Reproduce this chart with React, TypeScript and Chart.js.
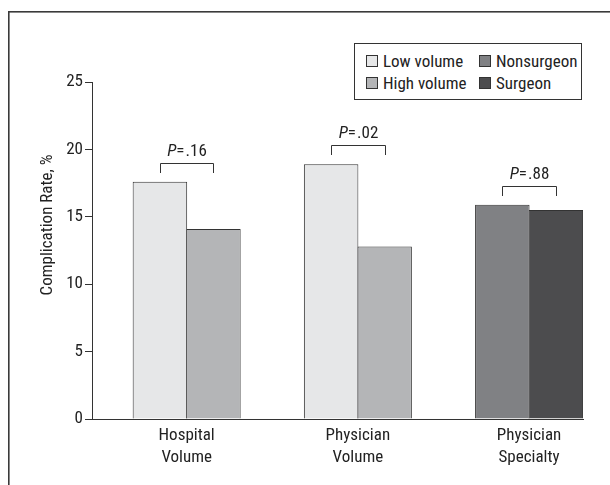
import React, { useEffect, useRef } from "react";
import { Chart, registerables } from "chart.js";

Chart.register(...registerables);

// ---- data ----
const categories: string[][] = [
  ["Hospital", "Volume"],
  ["Physician", "Volume"],
  ["Physician", "Specialty"],
];
const categoryPositions = [1, 2, 3];
const lowVolume: (number | null)[] = [17.6, 18.9, null];
const highVolume: (number | null)[] = [14.1, 12.8, null];
const nonsurgeon: (number | null)[] = [null, null, 15.9];
const surgeon: (number | null)[] = [null, null, 15.5];
const pValues = [".16", ".02", ".88"];
const seriesLabels = ["Low volume", "High volume", "Nonsurgeon", "Surgeon"];
const seriesColors = ["#e6e7e8", "#b4b5b7", "#808184", "#4c4c4e"];
const yTicks = [0, 5, 10, 15, 20, 25];
const yTitle = "Complication Rate, %";

const seriesValues = [lowVolume, highVolume, nonsurgeon, surgeon];

const W = 610;
const H = 485;
const FONT = "'Liberation Sans Narrow', 'Arial Narrow', 'Roboto Condensed', sans-serif";
const INK = "#333333";
const TEXT = "#222222";

const framePlugin = {
  id: "outerFrame",
  beforeDraw(chart: any) {
    const ctx: CanvasRenderingContext2D = chart.ctx;
    ctx.save();
    ctx.fillStyle = "#ffffff";
    ctx.fillRect(0, 0, chart.width, chart.height);
    ctx.fillStyle = "#3a3a3a";
    ctx.fillRect(8, 11, chart.width - 8, 1.6);
    ctx.fillRect(8, 11, 1.6, chart.height - 11);
    ctx.restore();
  },
};

const annotationPlugin = {
  id: "pvalueBrackets",
  afterDatasetsDraw(chart: any) {
    const ctx: CanvasRenderingContext2D = chart.ctx;
    ctx.save();
    ctx.strokeStyle = INK;
    ctx.fillStyle = TEXT;
    ctx.lineWidth = 1;
    categoryPositions.forEach((_, i) => {
      const els: any[] = [];
      chart.data.datasets.forEach((ds: any, d: number) => {
        const pt = ds.data[i];
        if (pt && pt.y != null) els.push(chart.getDatasetMeta(d).data[i]);
      });
      if (els.length < 2) return;
      const xs = els.map((e) => e.x);
      const top = Math.min(...els.map((e) => e.y));
      const x0 = Math.round(Math.min(...xs)) + 0.5;
      const x1 = Math.round(Math.max(...xs)) + 0.5;
      const yTop = Math.round(top - 19) + 0.5;
      const yLeg = Math.round(top - 9);
      ctx.beginPath();
      ctx.moveTo(x0, yLeg);
      ctx.lineTo(x0, yTop);
      ctx.lineTo(x1, yTop);
      ctx.lineTo(x1, yLeg);
      ctx.stroke();

      const cx = (x0 + x1) / 2;
      const base = yTop - 8;
      ctx.textBaseline = "alphabetic";
      ctx.textAlign = "left";
      ctx.font = `italic 17px ${FONT}`;
      const wP = ctx.measureText("P").width;
      ctx.font = `17px ${FONT}`;
      const wEq = ctx.measureText("=").width;
      const wV = ctx.measureText(pValues[i]).width;
      const g1 = 0;
      const g2 = 1;
      let x = cx - (wP + g1 + wEq + g2 + wV) / 2;
      ctx.font = `italic 17px ${FONT}`;
      ctx.fillText("P", x, base);
      x += wP + g1;
      ctx.font = `17px ${FONT}`;
      ctx.fillText("=", x, base);
      x += wEq + g2;
      ctx.fillText(pValues[i], x, base);
    });

    // y-axis title
    const yScale = chart.scales.y;
    ctx.save();
    ctx.translate(yScale.left + 40, chart.chartArea.top + 143);
    ctx.rotate(-Math.PI / 2);
    ctx.font = `17px ${FONT}`;
    ctx.textAlign = "center";
    ctx.textBaseline = "middle";
    ctx.fillText(yTitle, 0, 0);
    ctx.restore();

    ctx.restore();
  },
};

export default function App() {
  const canvasRef = useRef<HTMLCanvasElement | null>(null);

  useEffect(() => {
    document.documentElement.style.overflow = "hidden";
    document.body.style.overflow = "hidden";
    if (!canvasRef.current) return;
    const chart = new Chart(canvasRef.current, {
      type: "bar",
      data: {
        datasets: seriesValues.map((vals, k) => ({
          label: seriesLabels[k],
          data: categoryPositions.map((x, i) => ({ x, y: vals[i] })),
          backgroundColor: seriesColors[k],
          borderColor: INK,
          borderWidth: 1,
          skipNull: true,
          categoryPercentage: 0.625,
          barPercentage: 1.0187,
        })) as any,
      },
      options: {
        responsive: false,
        animation: false,
        layout: { padding: { top: 82, right: 27, bottom: 0, left: 8 } },
        plugins: {
          legend: { display: false },
          tooltip: { enabled: false },
        },
        scales: {
          x: {
            type: "linear",
            min: 0.447,
            max: 3.315,
            offset: false,
            bounds: "data",
            grid: { display: false, drawTicks: false },
            border: { display: true, color: INK, width: 1 },
            afterBuildTicks: (s: any) => {
              s.ticks = categoryPositions.map((v) => ({ value: v }));
            },
            afterFit: (s: any) => {
              s.height = 66;
            },
            ticks: {
              autoSkip: false,
              maxRotation: 0,
              padding: 6,
              color: TEXT,
              font: { family: FONT, size: 17, lineHeight: 1.3 },
              callback: (v: any) => {
                const idx = categoryPositions.indexOf(Number(v));
                return idx >= 0 ? categories[idx] : "";
              },
            },
          } as any,
          y: {
            min: yTicks[0],
            max: yTicks[yTicks.length - 1],
            grid: { drawOnChartArea: false, drawTicks: true, tickLength: 7, color: INK },
            border: { display: true, color: INK, width: 1 },
            afterBuildTicks: (s: any) => {
              s.ticks = yTicks.map((v) => ({ value: v }));
            },
            afterFit: (s: any) => {
              s.width = 84;
            },
            ticks: {
              padding: 2,
              color: TEXT,
              font: { family: FONT, size: 17 },
            },
          } as any,
        },
      },
      plugins: [framePlugin, annotationPlugin],
    });
    return () => chart.destroy();
  }, []);

  return (
    <div style={{ position: "fixed", left: 0, top: 0, width: W, height: H, background: "#fff" }}>
      <canvas
        ref={canvasRef}
        width={W}
        height={H}
        style={{ position: "absolute", left: 0, top: 0, display: "block" }}
      />
      <div
        style={{
          position: "absolute",
          left: 354,
          top: 43,
          width: 228,
          height: 57,
          border: "1px solid #333",
          boxSizing: "border-box",
          background: "#fff",
          fontFamily: FONT,
          fontSize: 17,
          color: TEXT,
        }}
      >
        {seriesLabels.map((lab, k) => {
          const col = Math.floor(k / 2);
          const row = k % 2;
          const left = col === 0 ? 11 : 124;
          const center = row === 0 ? 16.7 : 39.3;
          return (
            <div
              key={lab}
              style={{
                position: "absolute",
                left,
                top: center - 10,
                height: 20,
                display: "flex",
                alignItems: "center",
                whiteSpace: "nowrap",
                lineHeight: "20px",
              }}
            >
              <span
                style={{
                  display: "inline-block",
                  width: 12,
                  height: 12,
                  border: "1px solid #333",
                  boxSizing: "border-box",
                  background: seriesColors[k],
                  marginRight: 5,
                }}
              />
              <span>{lab}</span>
            </div>
          );
        })}
      </div>
    </div>
  );
}
